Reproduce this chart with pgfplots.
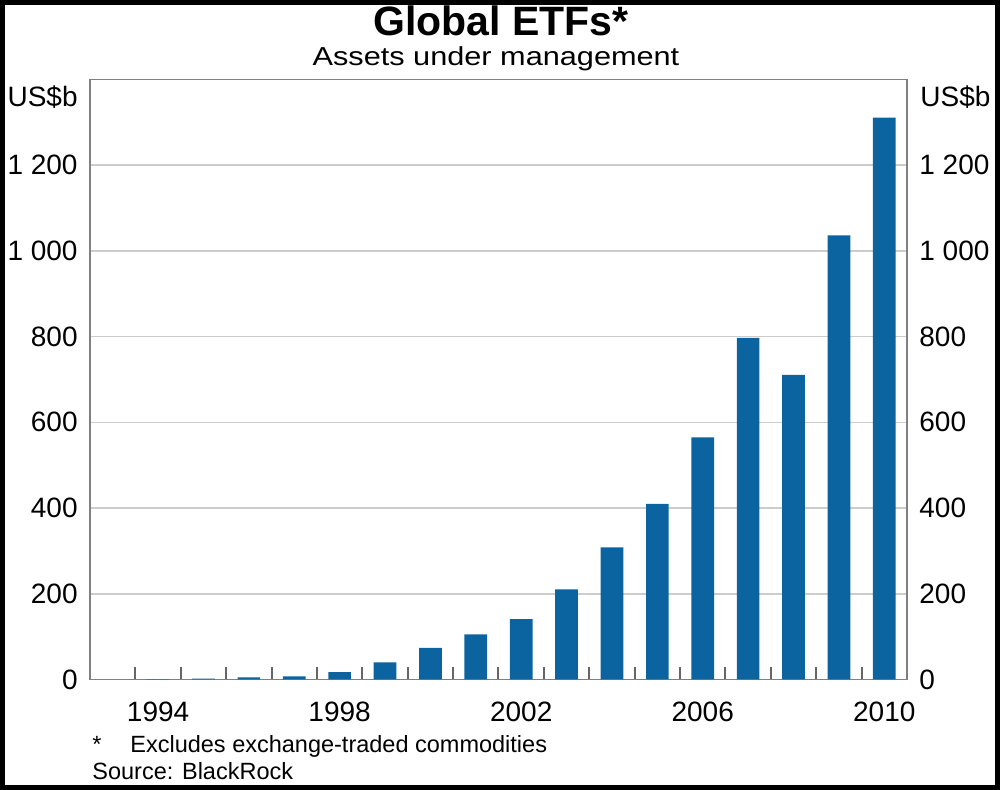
\documentclass[border=0pt]{standalone}
\usepackage{fontspec}
\setmainfont{Liberation Sans}
\newfontfamily\subfont{Liberation Sans}[FakeStretch=1.18]
\usepackage{pgfplots}
\usepackage{pgfplotstable}
\pgfplotsset{compat=1.18}

\definecolor{barblue}{HTML}{0B64A0}
\definecolor{framegray}{HTML}{808080}
\definecolor{gridgray}{HTML}{CCCCCC}

% Global ETF assets under management, US$b
\pgfplotstableread{
year value
1994 1
1995 2
1996 5
1997 7
1998 17
1999 40
2000 74
2001 105
2002 141
2003 210
2004 308
2005 410
2006 565
2007 797
2008 711
2009 1036
2010 1311
}\etfdata

\pgfplotsset{
    etfbox/.style={
        at={(45pt,55.25pt)}, anchor=south west,
        scale only axis, width=408.5pt, height=300pt,
        xmin=1992.5, xmax=2010.5, ymin=0, ymax=1400,
        ytick={0,200,...,1200},
        yticklabels={0,200,400,600,800,1 000,1 200},
        scaled y ticks=false,
        tick label style={font=\fontsize{14}{16}\selectfont, inner sep=0pt},
        /pgf/number format/assume math mode=true,
    },
}

\begin{document}
\begin{tikzpicture}
\useasboundingbox (0,0) rectangle (500pt,395pt);

\begin{axis}[
    etfbox,
    ybar, bar width=0.5,
    axis line style={framegray, line width=0.8pt},
    ymajorgrids, grid style={gridgray, line width=0.8pt},
    % year boundaries carry the tick marks, the labels sit on extra ticks
    xtick={1993.5,1994.5,...,2009.5},
    xticklabels={},
    major tick length=6pt,
    tick align=inside,
    x tick style={draw=black!60, line width=1pt},
    y tick style={draw=none},
    xtick pos=bottom, ytick pos=left,
    extra x ticks={1994,1998,2002,2006,2010},
    extra x tick labels={1994,1998,2002,2006,2010},
    extra x tick style={major tick length=0pt, xticklabel style={yshift=-11pt}},
    yticklabel style={xshift=-6pt},
]
    \addplot[fill=barblue, draw=none] table[x=year, y=value]{\etfdata};
\end{axis}

% right-hand scale
\begin{axis}[
    etfbox,
    major tick length=0pt,
    hide x axis,
    axis y line*=right,
    y axis line style={draw=none},
    yticklabel style={xshift=6pt},
]
    \addplot[draw=none] coordinates {(2000,0)};
\end{axis}

\node[anchor=base, font=\bfseries\fontsize{20.5}{24}\selectfont] at (250.5pt,377pt) {Global ETFs*};
\node[anchor=base, font=\subfont\fontsize{13}{15}\selectfont] at (248pt,362pt) {Assets under management};

\node[anchor=east, inner sep=0pt, font=\fontsize{14}{16}\selectfont] at (39pt,346.5pt) {US\$b};
\node[anchor=west, inner sep=0pt, font=\fontsize{14}{16}\selectfont] at (460pt,346.5pt) {US\$b};

\node[anchor=base west, inner sep=0pt, font=\fontsize{11.75}{14}\selectfont] at (46pt,18.5pt) {*};
\node[anchor=base west, inner sep=0pt, font=\fontsize{11.75}{14}\selectfont] at (65pt,18.5pt) {Excludes exchange-traded commodities};
\node[anchor=base west, inner sep=0pt, font=\fontsize{11.75}{14}\selectfont] at (46pt,5pt) {Source: BlackRock};

\draw[line width=2.5pt, black] (1.25pt,1.25pt) rectangle (498.75pt,393.75pt);
\end{tikzpicture}
\end{document}
